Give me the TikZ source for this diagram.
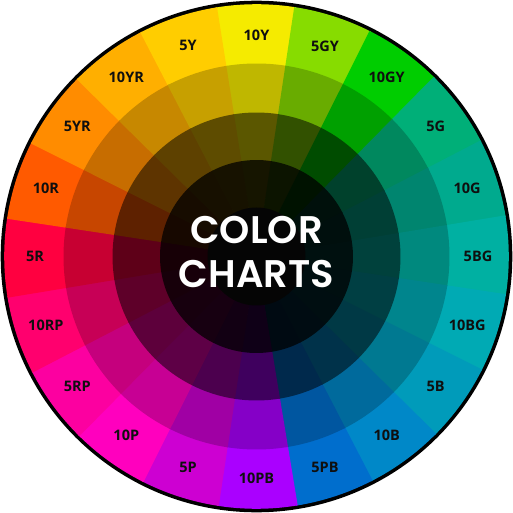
\documentclass[tikz,border=0pt]{standalone}
\usepackage{fontspec}
\setmainfont{Open Sans}
\newfontfamily\titlefont{Poppins}[BoldFont={* SemiBold}]
\definecolor{c10Y}{RGB}{245,235,0}
\definecolor{c5GY}{RGB}{135,220,0}
\definecolor{c10GY}{RGB}{0,205,0}
\definecolor{c5G}{RGB}{0,175,120}
\definecolor{c10G}{RGB}{0,170,142}
\definecolor{c5BG}{RGB}{0,176,162}
\definecolor{c10BG}{RGB}{0,170,180}
\definecolor{c5B}{RGB}{0,155,186}
\definecolor{c10B}{RGB}{0,136,200}
\definecolor{c5PB}{RGB}{0,110,205}
\definecolor{c10PB}{RGB}{170,0,255}
\definecolor{c5P}{RGB}{205,0,210}
\definecolor{c10P}{RGB}{255,0,190}
\definecolor{c5RP}{RGB}{252,0,160}
\definecolor{c10RP}{RGB}{255,0,110}
\definecolor{c5R}{RGB}{255,0,64}
\definecolor{c10R}{RGB}{255,90,0}
\definecolor{c5YR}{RGB}{255,140,0}
\definecolor{c10YR}{RGB}{255,175,0}
\definecolor{c5Y}{RGB}{255,205,0}
\definecolor{labeltext}{RGB}{15,15,15}
\definecolor{coreblack}{RGB}{5,5,5}
\begin{document}
\begin{tikzpicture}[x=1pt,y=1pt,
  lbl/.style={font=\fontsize{14.5}{15}\selectfont\bfseries, text=labeltext, inner sep=0pt},
  ttl/.style={font=\titlefont\fontsize{38.5}{44}\selectfont\bfseries, text=white, inner sep=0pt, anchor=base}]
\useasboundingbox (-256.5,-256.5) rectangle (256.5,256.5);
\fill[black] (0,0) circle[radius=255.8];
\foreach \c [count=\i from 0] in {c10Y,c5GY,c10GY,c5G,c10G,c5BG,c10BG,c5B,c10B,c5PB,c10PB,c5P,c10P,c5RP,c10RP,c5R,c10R,c5YR,c10YR,c5Y} {
  \pgfmathsetmacro\a{90-18*\i+9.4}
  \pgfmathsetmacro\b{90-18*\i-9}
  \fill[\c] (0,0) -- (\a:252.3) arc[start angle=\a,end angle=\b,radius=252.3] -- cycle;
}
\foreach \c [count=\i from 0] in {c10Y,c5GY,c10GY,c5G,c10G,c5BG,c10BG,c5B,c10B,c5PB,c10PB,c5P,c10P,c5RP,c10RP,c5R,c10R,c5YR,c10YR,c5Y} {
  \pgfmathsetmacro\a{90-18*\i+9.4}
  \pgfmathsetmacro\b{90-18*\i-9}
  \fill[\c!78!black] (0,0) -- (\a:193) arc[start angle=\a,end angle=\b,radius=193] -- cycle;
}
\foreach \c [count=\i from 0] in {c10Y,c5GY,c10GY,c5G,c10G,c5BG,c10BG,c5B,c10B,c5PB,c10PB,c5P,c10P,c5RP,c10RP,c5R,c10R,c5YR,c10YR,c5Y} {
  \pgfmathsetmacro\a{90-18*\i+9.4}
  \pgfmathsetmacro\b{90-18*\i-9}
  \fill[\c!37!black] (0,0) -- (\a:144) arc[start angle=\a,end angle=\b,radius=144] -- cycle;
}
\foreach \c [count=\i from 0] in {c10Y,c5GY,c10GY,c5G,c10G,c5BG,c10BG,c5B,c10B,c5PB,c10PB,c5P,c10P,c5RP,c10RP,c5R,c10R,c5YR,c10YR,c5Y} {
  \pgfmathsetmacro\a{90-18*\i+9.4}
  \pgfmathsetmacro\b{90-18*\i-9}
  \fill[\c!9!black] (0,0) -- (\a:96.5) arc[start angle=\a,end angle=\b,radius=96.5] -- cycle;
}
\fill[coreblack] (0,0) circle[radius=49];
\foreach \t [count=\i from 0] in {10Y,5GY,10GY,5G,10G,5BG,10BG,5B,10B,5PB,10PB,5P,10P,5RP,10RP,5R,10R,5YR,10YR,5Y} {
  \node[lbl] (lab\i) at ({90-18*\i}:221.5) {\t};
}
\node[ttl] (t1) at (0,13) {COLOR};
\node[ttl] (t2) at (0,-31) {CHARTS};
\end{tikzpicture}
\end{document}
